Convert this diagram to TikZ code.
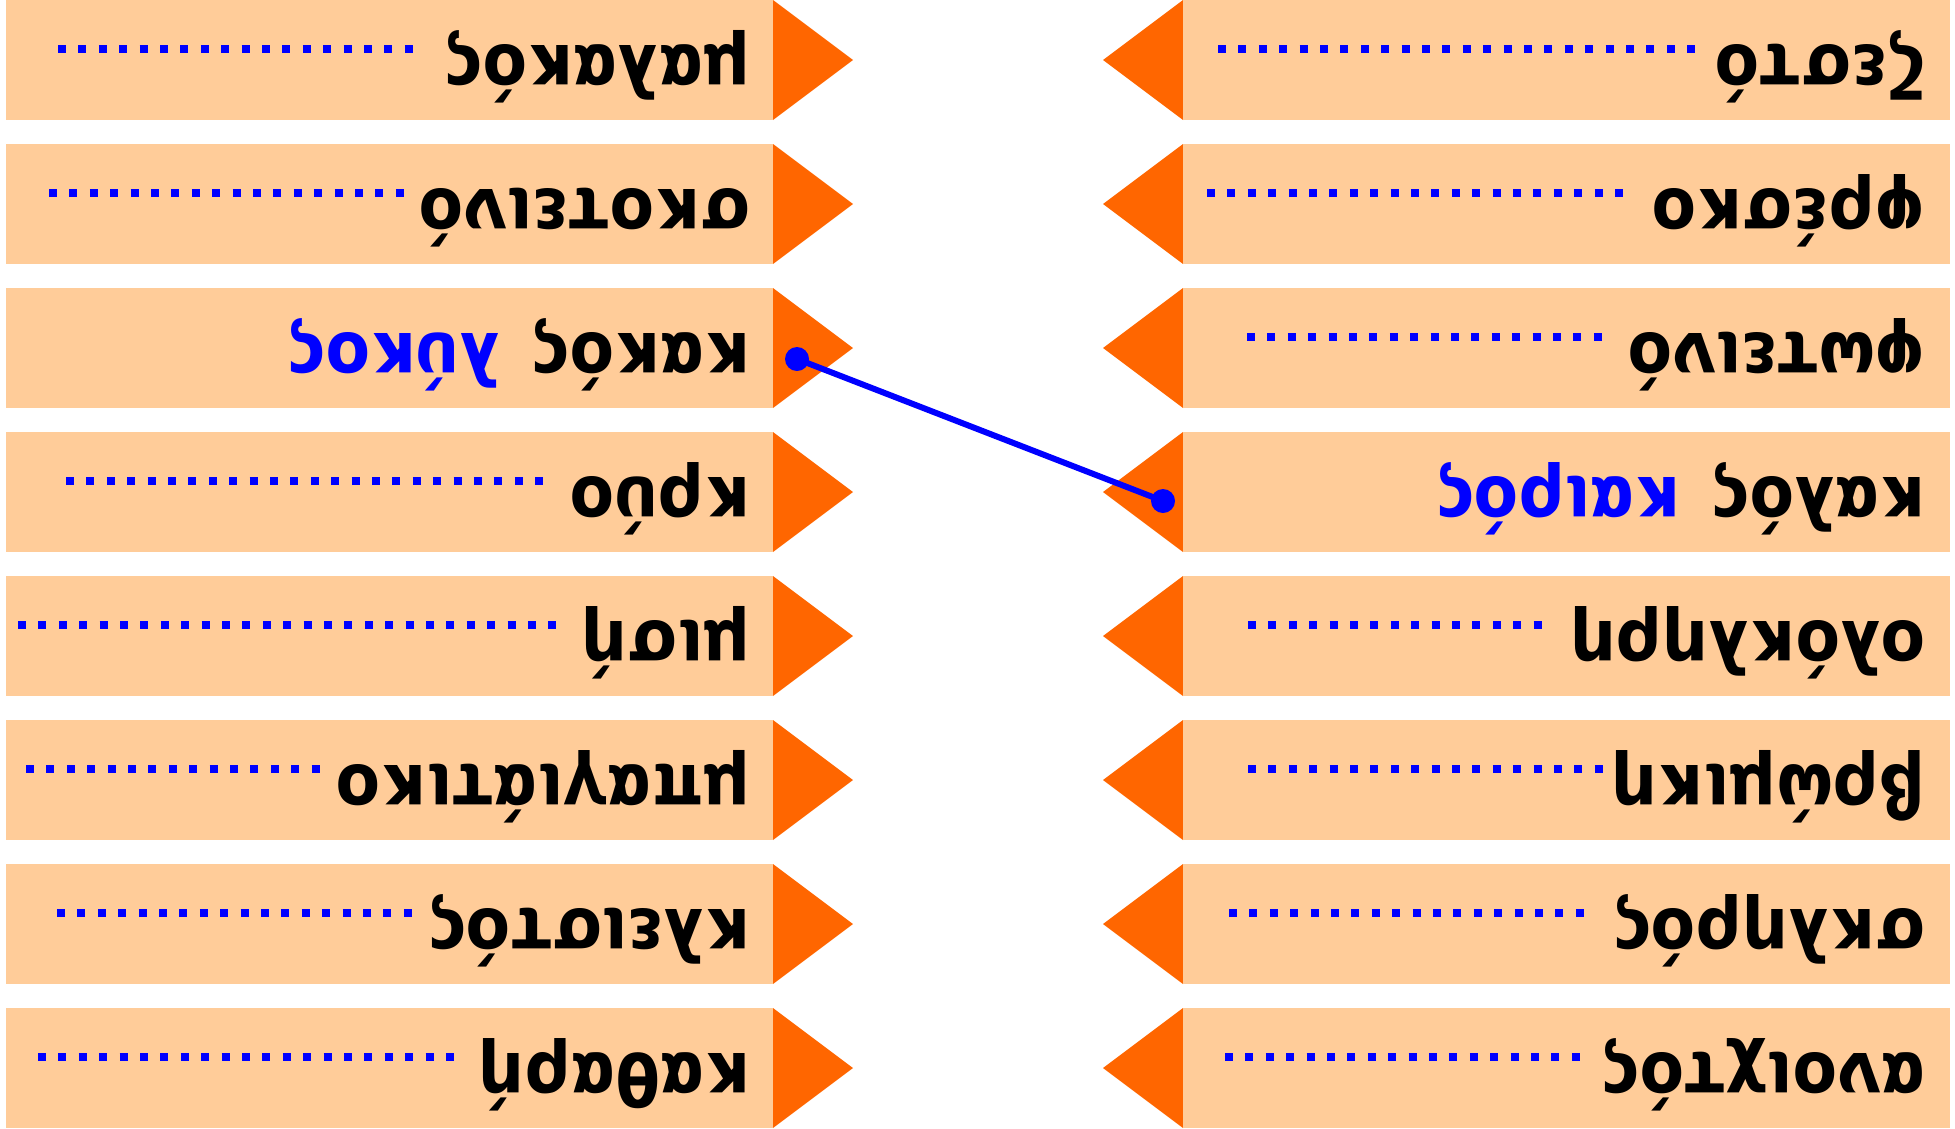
\documentclass[tikz,border=0pt]{standalone}
\usepackage{fontspec}
\setmainfont{DejaVu Sans Condensed}
\definecolor{boxfill}{HTML}{FFCC99}
\definecolor{tipfill}{HTML}{FF6600}
\begin{document}
\begin{tikzpicture}[x=1pt,y=-1pt,
  box/.style={fill=boxfill},
  tipshape/.style={fill=tipfill},
  word/.style={rotate=180, anchor=base west, inner sep=0pt, font=\fontsize{72}{80}\selectfont\bfseries},
  blank/.style={draw=blue, line width=8pt, dash pattern=on 8pt off 12.4pt},
  dotmark/.style={circle, fill=blue, minimum size=24pt, inner sep=0pt},
  link/.style={draw=blue, line width=6pt}]
\useasboundingbox (0,0) rectangle (1955,1128);
% boxes and pointers
\foreach \i in {0,...,7}{
  \pgfmathsetmacro\top{144*\i}
  \fill[box] (6,\top) rectangle (773,\top+120);
  \fill[tipshape] (773,\top) -- (853,\top+60) -- (773,\top+120) -- cycle;
  \fill[tipshape] (1183,\top) -- (1103,\top+60) -- (1183,\top+120) -- cycle;
  \fill[box] (1183,\top) rectangle (1950,\top+120);
}
% left words
\node[word] (L1) at (751,45) {μαλακός};
\node[word] (L2) at (751,189) {σκοτεινό};
\node[word] (L3) at (751,333) {κακός\hspace{8pt} \textcolor{blue}{λύκος}};
\node[word] (L4) at (751,477) {κρύο};
\node[word] (L5) at (751,621) {μισή};
\node[word] (L6) at (751,765) {μπαγιάτικο};
\node[word] (L7) at (751,909) {κλειστός};
\node[word] (L8) at (751,1053) {καθαρή};
% right words
\node[word] (R1) at (1926,45) {ζεστό};
\node[word] (R2) at (1926,189) {φρέσκο};
\node[word] (R3) at (1926,333) {φωτεινό};
\node[word] (R4) at (1926,477) {καλός\hspace{8pt} \textcolor{blue}{καιρός}};
\node[word] (R5) at (1926,621) {ολόκληρη};
\node[word] (R6) at (1926,765) {βρώμικη};
\node[word] (R7) at (1926,909) {σκληρός};
\node[word] (R8) at (1926,1053) {ανοιχτός};
% blanks
\foreach \x/\r/\yy in {58/415/49, 49/404/193, 66/544/481, 18/558/625, 26/320/769, 57/411/913, 38/453/1057,
  1218/1696/49, 1207/1624/193, 1247/1602/337, 1248/1542/625, 1248/1604/769, 1229/1584/913, 1225/1581/1057}{
  \pgfmathsetmacro\n{round((\r-\x-8)/20.4)}
  \pgfmathsetmacro\e{\x+\n*20.4+8}
  \draw[blank] (\x,\yy) -- (\e,\yy);
}
% connector
\coordinate (cl) at (797,359);
\coordinate (cr) at (1163,501);
\draw[link] (cl) -- (cr);
\node[dotmark] (dl) at (cl) {};
\node[dotmark] (dr) at (cr) {};
\end{tikzpicture}
\end{document}
